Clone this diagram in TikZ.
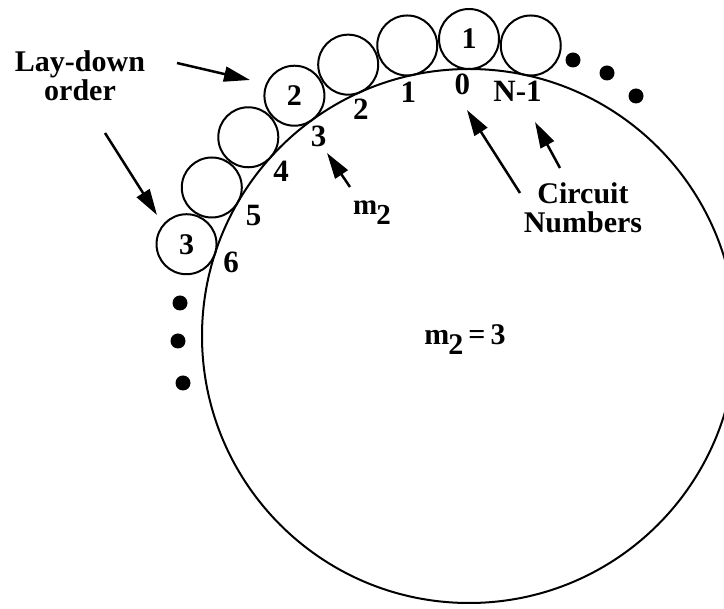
\documentclass[tikz,border=0pt]{standalone}
\usepackage{fontspec}
\setmainfont{Liberation Serif}
\usetikzlibrary{arrows.meta,calc}
\newcommand\mtwo{m\kern-1pt\raisebox{-10pt}{2}}
\begin{document}
\begin{tikzpicture}[x=1pt,y=-1pt,
  roll/.style={circle,draw,line width=2pt,minimum size=60pt,inner sep=0pt,font=\fontsize{30}{30}\selectfont\bfseries},
  drum/.style={circle,draw,line width=2pt,minimum size=534pt,inner sep=0pt},
  num/.style={font=\fontsize{31}{30}\selectfont\bfseries,inner sep=0pt},
  lbl/.style={font=\fontsize{30}{29}\selectfont\bfseries,align=center,inner sep=0pt},
  dotn/.style={circle,fill,minimum size=15pt,inner sep=0pt},
  arr/.style={line width=2.5pt,-{Triangle[length=26pt,width=15pt]}}]
\useasboundingbox (0,0) rectangle (724,609);
\clip (0,0) rectangle (724,609);
\coordinate (C) at (469,336);
\node[drum] (drum) at (C) {};
\node[roll] (rm) at ($(C)+(78:297pt)$) {};
\node[roll] (r0) at ($(C)+(90:297pt)$) {1};
\node[roll] (r1) at ($(C)+(102:297pt)$) {};
\node[roll] (r2) at ($(C)+(114:297pt)$) {};
\node[roll] (r3) at ($(C)+(126:297pt)$) {2};
\node[roll] (r4) at ($(C)+(138:297pt)$) {};
\node[roll] (r5) at ($(C)+(150:297pt)$) {};
\node[roll] (r6) at ($(C)+(162:297pt)$) {3};
\node[num] (nm) at ($(C)+(78.8:250pt)$) {N-1};
\node[num] (n0) at ($(C)+(91.5:252pt)$) {0};
\node[num] (n1) at ($(C)+(104:251pt)$) {1};
\node[num] (n2) at ($(C)+(115.5:251pt)$) {2};
\node[num] (n3) at ($(C)+(127:250pt)$) {3};
\node[num] (n4) at ($(C)+(138.7:250pt)$) {4};
\node[num] (n5) at ($(C)+(150.7:247pt)$) {5};
\node[num] (n6) at ($(C)+(162.8:249pt)$) {6};
\node[dotn] (d1) at (573,60) {};
\node[dotn] (d2) at (607,73) {};
\node[dotn] (d3) at (636,96) {};
\node[dotn] (d4) at (180,303) {};
\node[dotn] (d5) at (178,341) {};
\node[dotn] (d6) at (183,383) {};
\node[lbl] (lay) at (80,76) {Lay-down\\order};
\node[lbl] (circ) at (583,208) {Circuit\\Numbers};
\node[num,font=\fontsize{29}{28}\selectfont\bfseries] (mlab) at (372,213) {\mtwo};
\node[num,font=\fontsize{30}{28}\selectfont\bfseries] (meq) at (465,340) {\mtwo\,=\,3};
\coordinate (a1s) at (177,63);  \coordinate (a1e) at (250,80);
\coordinate (a2s) at (105,133); \coordinate (a2e) at (157,215);
\coordinate (a3s) at (350,187); \coordinate (a3e) at (327,153);
\coordinate (a4s) at (520,193); \coordinate (a4e) at (467,110);
\coordinate (a5s) at (560,168); \coordinate (a5e) at (535,122);
\draw[arr] (a1s) -- (a1e);
\draw[arr] (a2s) -- (a2e);
\draw[arr] (a3s) -- (a3e);
\draw[arr] (a4s) -- (a4e);
\draw[arr] (a5s) -- (a5e);
\end{tikzpicture}
\end{document}
